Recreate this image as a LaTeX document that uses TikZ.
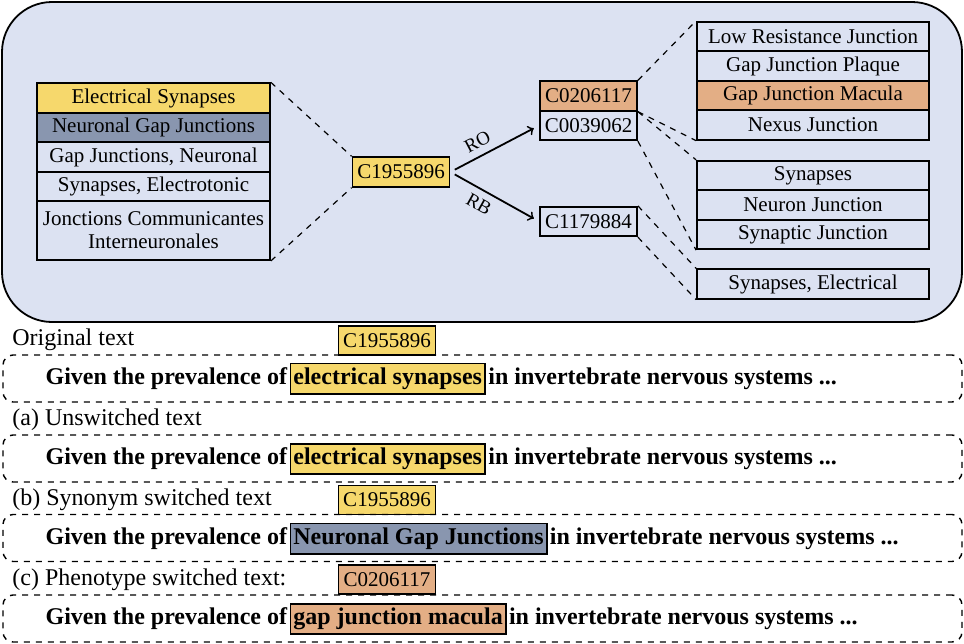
\documentclass[tikz,border=0pt]{standalone}
\usepackage{fontspec}
\setmainfont{Liberation Serif}
\usetikzlibrary{arrows,positioning}
\usepackage{xcolor}
\definecolor{panelblue}{HTML}{DCE2F2}
\definecolor{synyellow}{HTML}{F6D86C}
\definecolor{gapgray}{HTML}{8996AF}
\definecolor{macorange}{HTML}{E3AE85}
\tikzset{
  cell/.style={draw=black,line width=0.9pt,inner sep=0pt,minimum width=116.5pt,minimum height=14.75pt,font=\fontsize{10.5}{12.5}\selectfont},
  cui/.style={draw=black,line width=0.9pt,inner sep=0pt,minimum width=48.5pt,minimum height=14.75pt,font=\fontsize{10.5}{12.5}\selectfont},
  link/.style={dashed,line width=0.6pt},
  rel/.style={sloped,font=\fontsize{9.5}{10}\selectfont,inner sep=3.5pt},
  caption/.style={anchor=west,inner sep=0pt,font=\fontsize{12}{14}\selectfont},
  frame/.style={draw=black,dashed,line width=0.7pt,rounded corners=5pt,minimum width=479.5pt,minimum height=23.5pt,inner sep=0pt},
  sent/.style={inner xsep=1pt,inner ysep=2pt,text height=8.5pt,text depth=2.6pt,font=\fontsize{12}{14}\selectfont\bfseries},
  termbox/.style={sent,draw=black,line width=0.9pt,inner xsep=1.5pt}
}
\begin{document}
\begin{tikzpicture}[x=0.5pt,y=-0.5pt]
\useasboundingbox (0,0) rectangle (964,643);
% \draw[help lines] (0,0) grid (964,643);
\draw[fill=panelblue,line width=0.9pt,rounded corners=25pt] (2,2) rectangle (962,322);
%
\node (es) [cell,fill=synyellow] at (153.5,98) {Electrical Synapses};
\node (ngj) [cell,fill=gapgray] at (153.5,127.5) {Neuronal Gap Junctions};
\node (gjn) [cell] at (153.5,157) {Gap Junctions, Neuronal};
\node (se) [cell] at (153.5,186.5) {Synapses, Electrotonic};
\node (jci) [cell,minimum height=29.5pt,align=center] at (153.5,230.5) {Jonctions Communicantes\\[-1pt]Interneuronales};
%
\node (c19) [cui,fill=synyellow] at (401,172) {C1955896};
\node (c02) [cui,fill=macorange] at (588.5,96) {C0206117};
\node (c00) [cui] at (588.5,125.5) {C0039062};
\node (c11) [cui] at (588.5,221.5) {C1179884};
%
\node (lrj) [cell,minimum width=116pt] at (813,36.5) {Low Resistance Junction};
\node (gjp) [cell,minimum width=116pt] at (813,66) {Gap Junction Plaque};
\node (gjm) [cell,minimum width=116pt,fill=macorange] at (813,95.5) {Gap Junction Macula};
\node (nxj) [cell,minimum width=116pt] at (813,125) {Nexus Junction};
\node (syn) [cell,minimum width=116pt] at (813,175.5) {Synapses};
\node (nrj) [cell,minimum width=116pt] at (813,205) {Neuron Junction};
\node (spj) [cell,minimum width=116pt] at (813,234.5) {Synaptic Junction};
\node (sel) [cell,minimum width=116pt] at (813,284) {Synapses, Electrical};
%
\draw[link] (es.north east) -- (c19.north west);
\draw[link] (jci.south east) -- (c19.south west);
\draw[link] (c02.north east) -- (lrj.north west);
\draw[link] (c02.south east) -- (nxj.south west);
\draw[link] (c02.south east) -- (syn.north west);
\draw[link] (c00.south east) -- (spj.south west);
\draw[link] (c11.north east) -- (sel.north west);
\draw[link] (c11.south east) -- (sel.south west);
%
\path[->,line width=0.9pt,shorten <=2.5pt,shorten >=3pt](c19.east) edge node[rel,pos=0.38,above] {RO} (c00.west);
\path[->,line width=0.9pt,shorten <=2.5pt,shorten >=3pt](c19.east) edge node[rel,pos=0.4,below] {RB} (c11.west);
%
\node (lo) [caption] at (12,340) {Original text};
\node (ko) [cui,fill=synyellow,minimum height=14.5pt] at (387,340.5) {C1955896};
\node (fo) [frame] at (482.5,378.5) {};
\node (go) [sent,anchor=east] at (289.5,378.5) {Given the prevalence of};
\node (ho) [termbox,fill=synyellow,right=0pt of go] {electrical synapses};
\node (ro) [sent,right=0pt of ho] {in invertebrate nervous systems ...};
%
\node (la) [caption] at (12,420) {(a) Unswitched text};
\node (fa) [frame] at (482.5,458.5) {};
\node (ga) [sent,anchor=east] at (289.5,459) {Given the prevalence of};
\node (ha) [termbox,fill=synyellow,right=0pt of ga] {electrical synapses};
\node (ra) [sent,right=0pt of ha] {in invertebrate nervous systems ...};
%
\node (lb) [caption] at (12,500) {(b) Synonym switched text};
\node (kb) [cui,fill=synyellow,minimum height=14.5pt] at (387,500) {C1955896};
\node (fb) [frame] at (482.5,538) {};
\node (gb) [sent,anchor=east] at (289.5,538.5) {Given the prevalence of};
\node (hb) [termbox,fill=gapgray,right=0pt of gb] {Neuronal Gap Junctions};
\node (rb) [sent,right=0pt of hb] {in invertebrate nervous systems ...};
%
\node (lc) [caption] at (12,580) {(c) Phenotype switched text:};
\node (kc) [cui,fill=macorange,minimum height=14.5pt] at (387,579.5) {C0206117};
\node (fc) [frame] at (482.5,618.5) {};
\node (gc) [sent,anchor=east] at (289.5,619) {Given the prevalence of};
\node (hc) [termbox,fill=macorange,right=0pt of gc] {gap junction macula};
\node (rc) [sent,right=0pt of hc] {in invertebrate nervous systems ...};
\end{tikzpicture}
\end{document}
